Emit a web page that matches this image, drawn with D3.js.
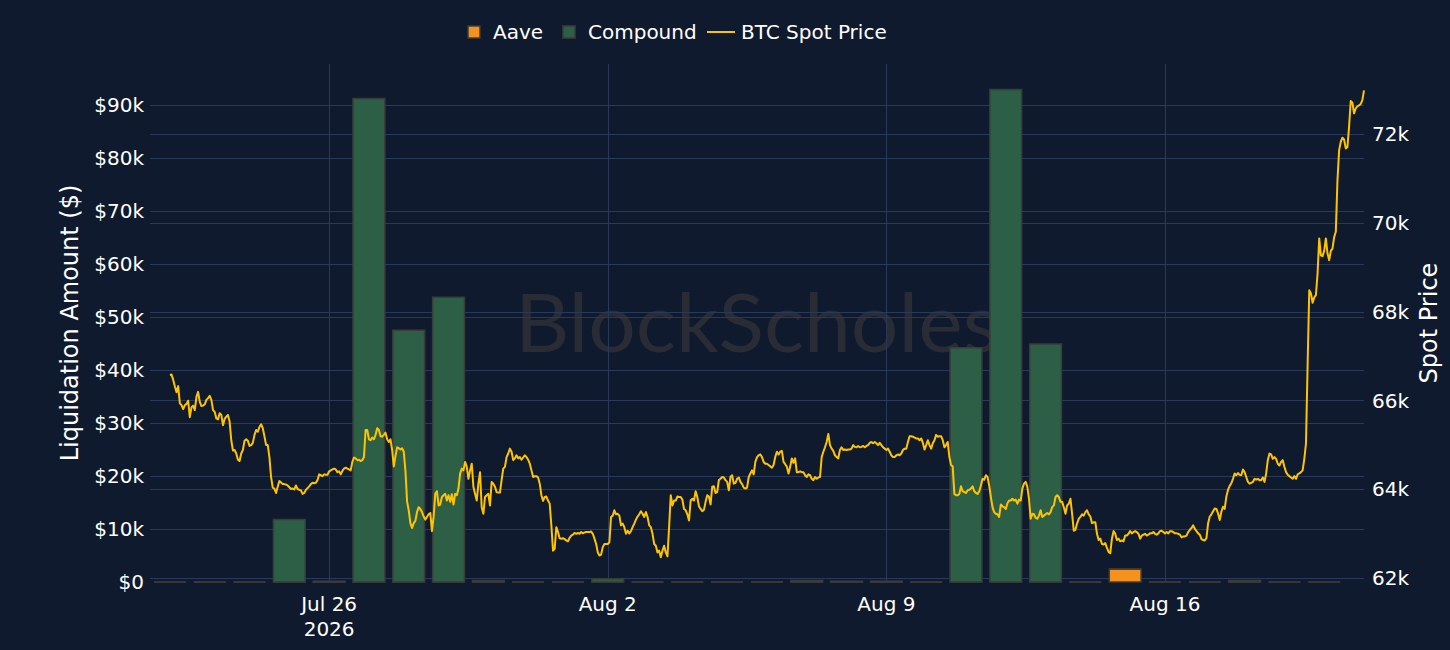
<!DOCTYPE html>
<html>
<head>
<meta charset="utf-8">
<title>Liquidations vs BTC Spot</title>
<style>
  html, body { margin: 0; padding: 0; background: #101a2e; }
  svg { display: block; }
</style>
</head>
<body>
<svg id="chart"></svg>
<script src="https://cdn.jsdelivr.net/npm/d3@7/dist/d3.min.js"></script>
<script>
// daily liquidation buckets
const days = ["2026-07-22","2026-07-23","2026-07-24","2026-07-25","2026-07-26","2026-07-27",
  "2026-07-28","2026-07-29","2026-07-30","2026-07-31","2026-08-01","2026-08-02","2026-08-03",
  "2026-08-04","2026-08-05","2026-08-06","2026-08-07","2026-08-08","2026-08-09","2026-08-10",
  "2026-08-11","2026-08-12","2026-08-13","2026-08-14","2026-08-15","2026-08-16","2026-08-17",
  "2026-08-18","2026-08-19","2026-08-20"];
const aaveLiq = [0,0,0,0,0,0,0,0,0,0,0,0,0,0,0,0,0,0,0,0,0,0,0,0,2450,0,0,0,0,0];
const compoundLiq = [0,0,0,11800,150,91200,47500,53700,300,0,0,600,0,0,0,0,300,150,150,0,
  44200,92900,44900,0,0,0,0,300,0,0];

// hourly BTC spot, first point at spotStart
const spotStart = "2026-07-22T00:00";
const btcSpot = [
  66570,66580,66460,66310,66180,66320,65930,65890,65800,65890,
  65920,65990,65620,65840,65880,65780,66080,66190,65970,65870,
  65880,65910,66010,66050,66100,66010,65780,65740,65590,65570,
  65710,65670,65440,65580,65630,65670,65520,65100,64870,64880,
  64800,64660,64630,64800,64880,65090,65120,65090,64970,64990,
  65040,65220,65330,65290,65400,65460,65370,65190,64990,64990,
  64720,64270,64030,64010,63910,64050,64180,64150,64110,64110,
  64100,64080,64040,64000,64010,63990,64080,64000,63980,63970,
  63890,63910,63980,64020,64060,64110,64140,64130,64140,64200,
  64330,64310,64290,64330,64320,64320,64400,64420,64440,64460,
  64440,64380,64400,64330,64410,64460,64480,64460,64440,64420,
  64610,64710,64690,64650,64660,64630,64650,64720,65330,65330,
  65120,65100,65160,65120,65220,65370,65330,65190,65180,65220,
  65270,65120,65060,65120,64880,64510,64740,64940,64920,64890,
  64920,64840,64420,63720,63520,63230,63120,63230,63280,63480,
  63590,
  63550,63480,63380,63310,63370,63430,63460,63050,63370,
  63890,63950,63630,63650,63820,63860,63890,63740,63860,63710,
  63880,63650,63890,63860,64010,64350,64460,64420,64610,64500,
  64230,64420,64570,64050,63890,63740,64120,64380,63590,63440,
  63820,63860,63890,63630,64160,64120,64050,63930,63920,63920,
  64200,64460,64500,64720,64800,64910,64840,64650,64690,64760,
  64690,64720,64660,64710,64760,64720,64660,64570,64420,64270,
  64290,64290,64260,64120,63860,63730,63820,63830,63740,63670,
  63180,62610,62650,63140,63030,62890,62880,62890,62870,62840,
  62820,62900,62950,62970,63010,62990,63010,62990,63030,63000,
  63020,63030,63030,63030,63040,62990,62880,62760,62570,62500,
  62520,62690,62760,62760,62760,62800,63370,63400,63520,63430,
  63440,63400,63180,63220,63140,62990,63060,63000,63050,63140,
  63220,63310,63380,63430,63500,63440,63370,63480,63370,63180,
  63140,62990,62760,62720,62570,62610,62460,62610,62720,62570,
  62480,63140,63860,63630,63740,63740,63830,63820,
  63820,63760,63550,63520,63430,63290,63740,63780,63740,63950,
  63820,63610,63550,63500,63530,63710,63860,63830,63650,64050,
  64060,63910,63930,64200,64230,64270,64260,64200,64160,63970,
  64270,64310,64120,64140,64230,64260,64160,64110,64030,64010,
  64030,64270,64350,64420,64330,64610,64720,64760,64780,64720,
  64610,64570,64570,64540,64510,64480,64540,64720,64840,64780,
  64840,64860,64610,64560,64500,64350,64500,64690,64590,64690,
  64380,64380,64400,64380,64380,64310,64270,64330,64310,64230,
  64200,64270,64230,64260,64270,64720,64840,64940,65060,65240,
  64990,64910,64860,64760,64720,64690,64880,64940,64880,64890,
  64880,64890,64890,64910,64990,64950,64940,64970,64940,64950,
  64970,64940,64970,64990,65040,65060,65030,65060,65030,64990,
  65040,64990,64940,64910,64880,64910,64840,64760,64720,64720,
  64760,64780,64760,64800,64880,64910,64910,65060,65190,65190,
  65180,65160,65140,65140,65100,65140,65040,64890,64990,65100,
  64990,64910,65030,65100,65220,65180,65190,
  65190,65100,64940,64990,65060,64720,64540,64510,63890,63860,
  63860,63890,64060,63950,63930,63910,63970,63980,64010,64060,
  63950,63910,63890,63950,64080,64230,64210,64310,64270,64080,
  63820,63590,63480,63440,63430,63370,63650,63610,63590,63550,
  63680,63740,63740,63780,63740,63760,63670,63760,63740,64010,
  64120,64160,64050,63780,63330,63440,63430,63350,63330,63400,
  63520,63370,63400,63430,63460,63430,63480,63590,63630,63820,
  63860,63820,63710,63710,63590,63440,63630,63670,63780,63440,
  63060,63080,63220,63330,63370,63430,63400,63480,63520,63430,
  63380,63230,63250,63250,62990,62850,62880,62760,62750,62780,
  62670,62580,62550,62880,63050,62990,62850,62880,62820,62840,
  62820,62950,62950,62990,63050,63000,63030,63050,63030,62990,
  62880,62950,62970,62990,62950,62970,63000,63000,63030,62990,
  62970,63000,63050,63060,63030,63000,63030,63000,63050,63050,
  63030,63000,63000,62990,62970,62910,62930,62930,62950,63030,
  63080,63120,63180,63100,63050,63000,62970,
  62870,62850,62840,62890,63230,63380,63430,63500,63560,63550,
  63450,63300,63490,63600,63550,63830,63980,64070,64130,
  64230,64350,64310,64360,64320,64310,64440,64380,64270,64160,
  64120,64140,64160,64230,64210,64230,64200,64200,64260,64160,
  64350,64650,64800,64780,64680,64720,64680,64570,64530,64610,
  64650,64500,64380,64320,64290,64260,64230,64290,64230,64330,
  64350,64380,64420,64680,65020,66800,68480,68410,68200,68320,
  68370,68860,69650,69270,69250,69370,69650,69310,69160,69370,
  69420,69680,69800,70960,71640,71830,71920,71880,71680,71710,
  72170,72750,72710,72470,72580,72630,72650,72680,72770,72990
];

const xRange = ["2026-07-21T12:00", "2026-08-21T00:00"];
const liqDomain = [0, 97700];
const spotDomain = [61903, 73583];
const liqTicks = [0,10000,20000,30000,40000,50000,60000,70000,80000,90000];
const spotTicks = [62000,64000,66000,68000,70000,72000];
const dateTicks = ["2026-07-26","2026-08-02","2026-08-09","2026-08-16"];
const dateTickLabels = [["Jul 26","2026"],["Aug 2"],["Aug 9"],["Aug 16"]];

const W = 1450, H = 650;
const plot = {left: 150, right: 1364, top: 64, bottom: 582};
const FONT = "'DejaVu Sans', Verdana, sans-serif";
const C = {
  bg: "#101a2e", grid: "#28395c", text: "#ffffff",
  aave: "#f5921e", compound: "#2c5f45", outline: "#3b3b3b",
  spot: "#ffc400", mark: "#292b35"
};

const parseDay = d3.timeParse("%Y-%m-%d");
const parseHour = d3.timeParse("%Y-%m-%dT%H:%M");

const svg = d3.select("#chart").attr("width", W).attr("height", H);
svg.append("rect").attr("width", W).attr("height", H).attr("fill", C.bg);

const x = d3.scaleTime()
  .domain(xRange.map(parseHour))
  .range([plot.left, plot.right]);
const yL = d3.scaleLinear().domain(liqDomain).range([plot.bottom, plot.top]);
const yR = d3.scaleLinear().domain(spotDomain).range([plot.bottom, plot.top]);

// watermark sits under the grid
svg.append("text")
  .attr("x", (plot.left + plot.right) / 2)
  .attr("y", 352)
  .attr("text-anchor", "middle")
  .attr("textLength", 484)
  .attr("lengthAdjust", "spacingAndGlyphs")
  .style("font-family", "Lato, 'Noto Sans', sans-serif")
  .style("font-size", "82px")
  .attr("fill", C.mark)
  .text("BlockScholes");

// grid
const grid = svg.append("g").attr("stroke", C.grid).attr("stroke-width", 1);
grid.selectAll(".gx").data(dateTicks).enter().append("line")
  .attr("x1", d => Math.round(x(parseDay(d))) + 0.5)
  .attr("x2", d => Math.round(x(parseDay(d))) + 0.5)
  .attr("y1", plot.top).attr("y2", plot.bottom);
grid.selectAll(".gl").data(liqTicks.filter(d => d > 0)).enter().append("line")
  .attr("x1", plot.left).attr("x2", plot.right)
  .attr("y1", d => Math.round(yL(d)) + 0.5).attr("y2", d => Math.round(yL(d)) + 0.5);
grid.selectAll(".gr").data(spotTicks).enter().append("line")
  .attr("x1", plot.left).attr("x2", plot.right)
  .attr("y1", d => Math.round(yR(d)) + 0.5).attr("y2", d => Math.round(yR(d)) + 0.5);

// stacked bars, drawn as paths so zero bars still show their outline
const bars = [];
days.forEach((d, i) => {
  const t = parseDay(d);
  bars.push({t: t, y0: 0, y1: aaveLiq[i], color: C.aave});
  bars.push({t: t, y0: aaveLiq[i], y1: aaveLiq[i] + compoundLiq[i], color: C.compound});
});
const halfBar = 0.4 * 24 * 3600 * 1000;
svg.append("g").selectAll("path").data(bars).enter().append("path")
  .attr("d", d => {
    const x0 = x(new Date(+d.t - halfBar)), x1 = x(new Date(+d.t + halfBar));
    const ya = yL(d.y0), yb = yL(d.y1);
    return `M${x0},${ya}H${x1}V${yb}H${x0}Z`;
  })
  .attr("fill", d => d.color)
  .attr("stroke", C.outline)
  .attr("stroke-width", 1.5);

// spot line
const start = parseHour(spotStart);
const spotPts = btcSpot.map((v, i) => ({t: d3.timeHour.offset(start, i), v: v}));
svg.append("path")
  .datum(spotPts)
  .attr("fill", "none")
  .attr("stroke", C.spot)
  .attr("stroke-width", 2)
  .attr("stroke-linejoin", "round")
  .attr("d", d3.line().x(d => x(d.t)).y(d => yR(d.v)));

// axes labels
const fmtLiq = d => d === 0 ? "$0" : "$" + d3.format("d")(d / 1000) + "k";
svg.append("g").selectAll("text").data(liqTicks).enter().append("text")
  .attr("x", plot.left - 6).attr("y", d => yL(d))
  .attr("dy", "0.36em").attr("text-anchor", "end")
  .style("font-family", FONT).style("font-size", "20px").attr("fill", C.text)
  .text(fmtLiq);
svg.append("g").selectAll("text").data(spotTicks).enter().append("text")
  .attr("x", plot.right + 8).attr("y", d => yR(d))
  .attr("dy", "0.36em").attr("text-anchor", "start")
  .style("font-family", FONT).style("font-size", "20px").attr("fill", C.text)
  .text(d => d / 1000 + "k");
const xl = svg.append("g").selectAll("text").data(dateTicks).enter().append("text")
  .attr("text-anchor", "middle")
  .style("font-family", FONT).style("font-size", "20px").attr("fill", C.text);
xl.each(function(d, i) {
  const el = d3.select(this);
  dateTickLabels[i].forEach((s, j) => {
    el.append("tspan").attr("x", x(parseDay(d))).attr("y", 611 + j * 25).text(s);
  });
});

svg.append("text")
  .attr("transform", `translate(69,${(plot.top + plot.bottom) / 2}) rotate(-90)`)
  .attr("text-anchor", "middle").attr("dy", "0.36em")
  .style("font-family", FONT).style("font-size", "24px").attr("fill", C.text)
  .text("Liquidation Amount ($)");
svg.append("text")
  .attr("transform", `translate(1428,${(plot.top + plot.bottom) / 2}) rotate(-90)`)
  .attr("text-anchor", "middle").attr("dy", "0.36em")
  .style("font-family", FONT).style("font-size", "24px").attr("fill", C.text)
  .text("Spot Price");

// legend
const legend = svg.append("g").style("font-family", FONT).style("font-size", "20px");
legend.append("rect").attr("x", 468).attr("y", 26).attr("width", 12).attr("height", 12)
  .attr("fill", C.aave).attr("stroke", C.outline).attr("stroke-width", 1.5);
legend.append("text").attr("x", 493).attr("y", 39).attr("fill", C.text).text("Aave");
legend.append("rect").attr("x", 563).attr("y", 26).attr("width", 12).attr("height", 12)
  .attr("fill", C.compound).attr("stroke", C.outline).attr("stroke-width", 1.5);
legend.append("text").attr("x", 588).attr("y", 39).attr("fill", C.text).text("Compound");
legend.append("line").attr("x1", 707).attr("x2", 735).attr("y1", 32).attr("y2", 32)
  .attr("stroke", C.spot).attr("stroke-width", 2);
legend.append("text").attr("x", 741).attr("y", 39).attr("fill", C.text).text("BTC Spot Price");
</script>
</body>
</html>
